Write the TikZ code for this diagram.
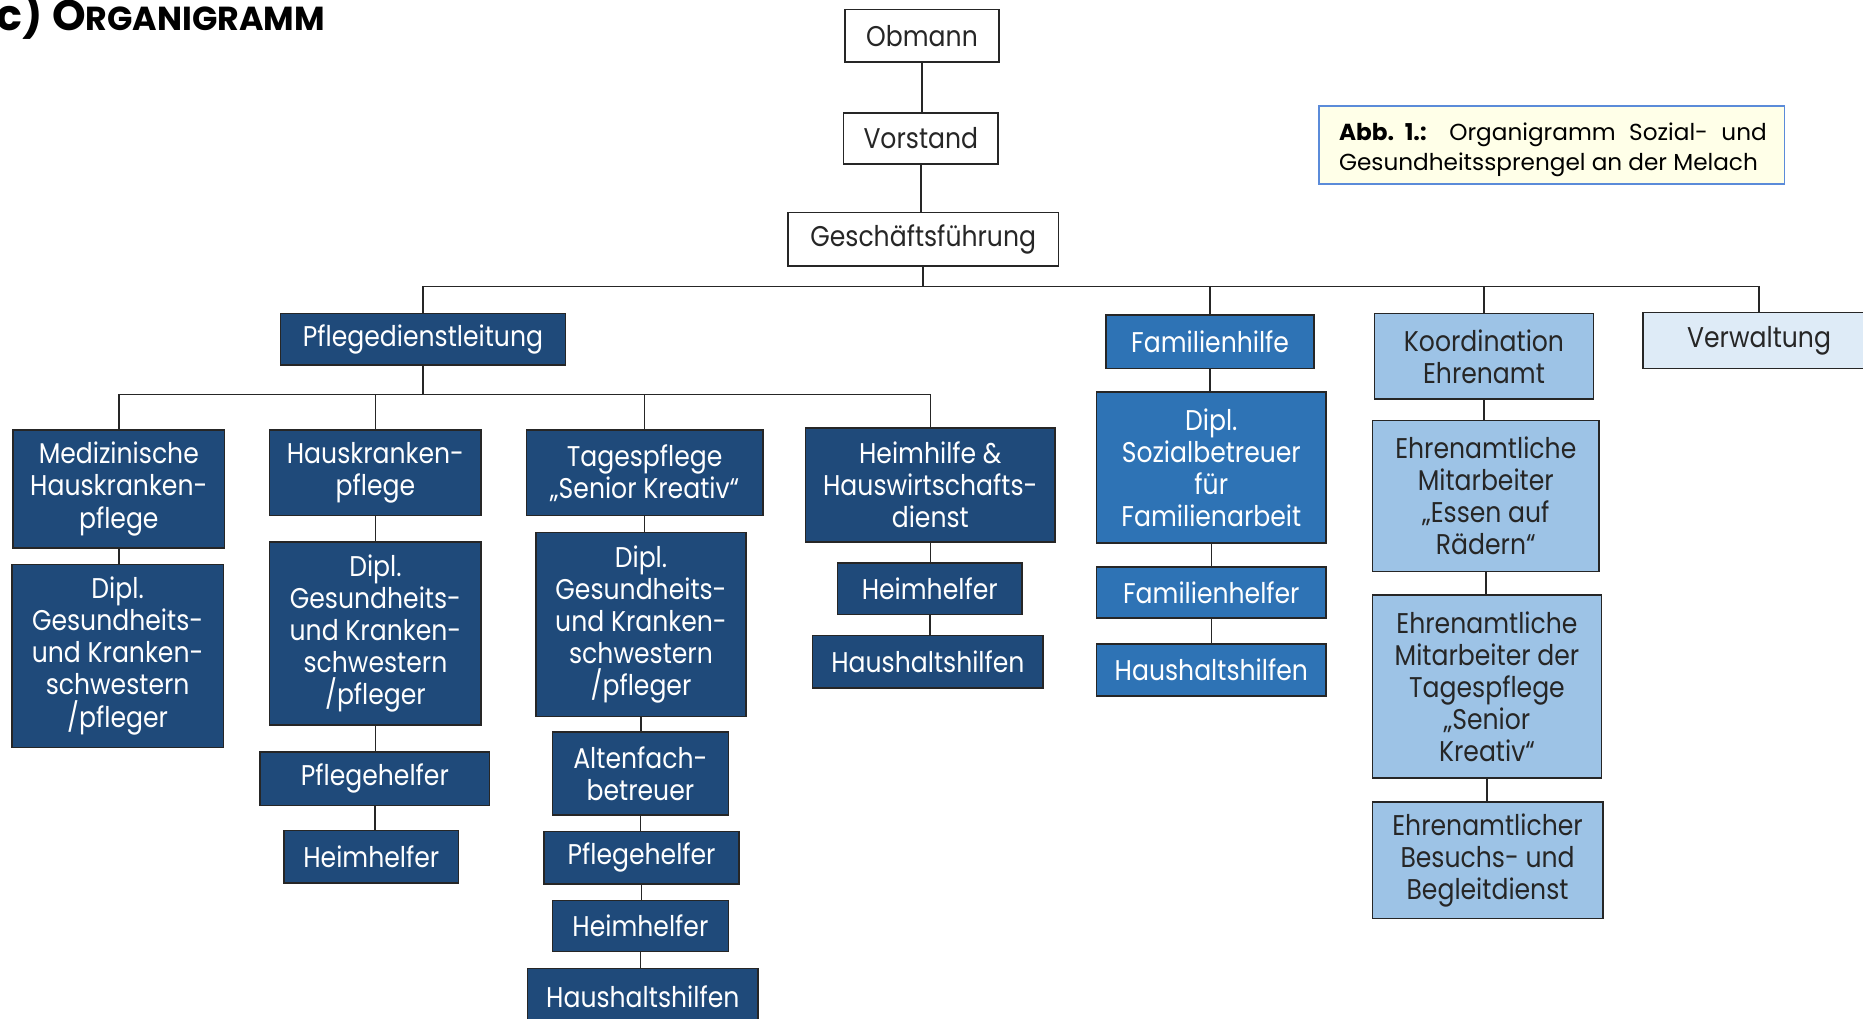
\documentclass[tikz,border=0pt]{standalone}
\usepackage{fontspec}
\setmainfont{Poppins}
\newfontfamily\boxfont[FakeStretch=0.88]{Poppins}
\definecolor{navy}{HTML}{1F4A7A}
\definecolor{midblue}{HTML}{2E73B5}
\definecolor{lightblue}{HTML}{9DC3E6}
\definecolor{paleblue}{HTML}{DEEBF7}
\definecolor{capfill}{HTML}{FFFFE8}
\definecolor{capline}{HTML}{5B8BD9}
\definecolor{txtdark}{HTML}{262626}
\tikzset{
  boxbase/.style={draw=black!85, line width=1.3pt, inner sep=1pt, align=center,
    font=\boxfont\fontsize{24}{27}\selectfont},
  wbox/.style={boxbase, fill=white, text=txtdark},
  navybox/.style={boxbase, fill=navy, text=white},
  midbox/.style={boxbase, fill=midblue, text=white},
  lightbox/.style={boxbase, fill=lightblue, text=txtdark},
  palebox/.style={boxbase, fill=paleblue, text=txtdark},
  conn/.style={draw=black!85, line width=1.3pt}
}
\newcommand\bx[7]{%
  \node[#1, minimum width={#5-#3}, minimum height={#6-#4}] (#2) at ({(#3+#5)/2},{(#4+#6)/2}) {#7};}
\begin{document}
\begin{tikzpicture}[x=1pt,y=-1pt]
\useasboundingbox (0,0) rectangle (1568,857);
% title
\node[anchor=base west, inner sep=0, font=\bfseries] (title) at (-3,26)
  {\fontsize{36}{36}\selectfont c) O\fontsize{28}{28}\selectfont RGANIGRAMM};
% caption
\node[draw=capline, fill=capfill, line width=1.4pt, minimum width=392, minimum height=66,
  inner sep=0] (cap) at (1306,122) {};
\node[text width=360, align=justify, inner sep=0, font=\fontsize{19.5}{25}\selectfont, text=black] (captxt) at (1307,126)
  {\textbf{Abb.\ 1.:} Organigramm Sozial- und\linebreak Gesundheitssprengel an der Melach};
% top
\bx{wbox}{obm}{711}{8}{841}{52}{Obmann}
\bx{wbox}{vor}{710}{95}{840}{138}{Vorstand}
\bx{wbox}{gf}{663}{179}{891}{224}{Geschäftsführung}
% level 1
\bx{navybox}{pdl}{236}{264}{476}{307}{Pflegedienstleitung}
\bx{midbox}{fam}{931}{265}{1106}{310}{Familienhilfe}
\bx{lightbox}{koo}{1157}{264}{1341}{336}{Koordination\\Ehrenamt}
\bx{palebox}{ver}{1383}{263}{1578}{310}{Verwaltung}
% column 1
\bx{navybox}{med}{11}{362}{189}{461}{Medizinische\\Hauskranken-\\pflege}
\bx{navybox}{dipa}{10}{475}{188}{629}{Dipl.\\Gesundheits-\\und Kranken-\\schwestern\\/pfleger}
% column 2
\bx{navybox}{hkp}{227}{362}{405}{434}{Hauskranken-\\pflege}
\bx{navybox}{dipb}{227}{456}{405}{610}{Dipl.\\Gesundheits-\\und Kranken-\\schwestern\\/pfleger}
\bx{navybox}{phb}{219}{633}{412}{678}{Pflegehelfer}
\bx{navybox}{hhb}{239}{699}{386}{743}{Heimhelfer}
% column 3
\bx{navybox}{tag}{443}{362}{642}{434}{Tagespflege\\„Senior Kreativ“}
\bx{navybox}{dipc}{451}{448}{628}{603}{Dipl.\\Gesundheits-\\und Kranken-\\schwestern\\/pfleger}
\bx{navybox}{alt}{465}{616}{613}{686}{Altenfach-\\betreuer}
\bx{navybox}{phc}{458}{700}{622}{744}{Pflegehelfer}
\bx{navybox}{hhc}{465}{758}{613}{801}{Heimhelfer}
\bx{navybox}{hsc}{444}{815}{638}{862}{Haushaltshilfen}
% column 4
\bx{navybox}{hw}{678}{360}{888}{456}{Heimhilfe \&\\Hauswirtschafts-\\dienst}
\bx{navybox}{hhd}{705}{474}{860}{517}{Heimhelfer}
\bx{navybox}{hsd}{684}{535}{878}{579}{Haushaltshilfen}
% column 5
\bx{midbox}{soz}{923}{330}{1116}{457}{Dipl.\\Sozialbetreuer\\für\\Familienarbeit}
\bx{midbox}{fh}{923}{477}{1116}{520}{Familienhelfer}
\bx{midbox}{hse}{923}{542}{1116}{586}{Haushaltshilfen}
% column 6
\bx{lightbox}{ea}{1155}{354}{1346}{481}{Ehrenamtliche\\Mitarbeiter\\„Essen auf\\Rädern“}
\bx{lightbox}{eb}{1155}{501}{1348}{655}{Ehrenamtliche\\Mitarbeiter der\\Tagespflege\\„Senior\\Kreativ“}
\bx{lightbox}{ec}{1155}{675}{1349}{773}{Ehrenamtlicher\\Besuchs- und\\Begleitdienst}
% connectors
\coordinate (bar1) at (775,241);
\coordinate (bar2) at (351,332);
\draw[conn] (obm.south) -- (obm.south |- vor.north);
\draw[conn] (vor.south) -- (vor.south |- gf.north);
\draw[conn] (gf.south) -- (gf.south |- bar1);
\foreach \c in {pdl,fam,koo,ver} \draw[conn] (gf.south |- bar1) -| (\c.north);
\draw[conn] (pdl.south) -- (pdl.south |- bar2);
\foreach \c in {med,hkp,tag,hw} \draw[conn] (pdl.south |- bar2) -| (\c.north);
\foreach \a/\b in {med/dipa,hkp/dipb,dipb/phb,phb/hhb,tag/dipc,dipc/alt,alt/phc,phc/hhc,hhc/hsc,hw/hhd,hhd/hsd,fam/soz,soz/fh,fh/hse,koo/ea,ea/eb,eb/ec}
  \draw[conn] (\a.south) -- (\a.south |- \b.north);
\end{tikzpicture}
\end{document}
